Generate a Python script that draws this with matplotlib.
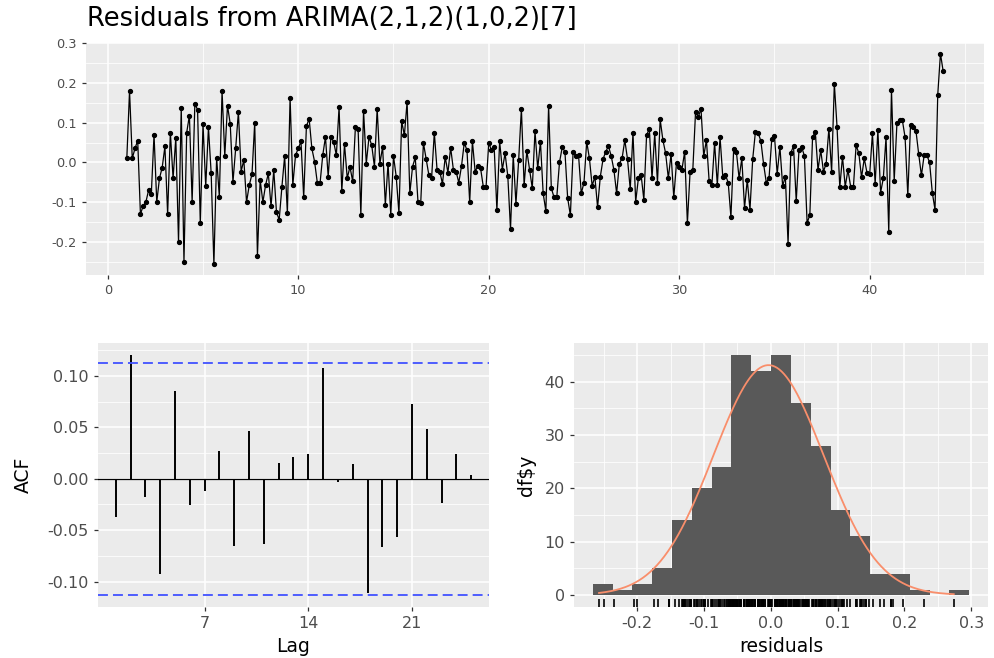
import numpy as np
import matplotlib
matplotlib.use("Agg")
import matplotlib.pyplot as plt
from matplotlib.ticker import MultipleLocator, FixedLocator, FixedFormatter
import matplotlib.transforms as mtransforms

plt.rcParams['font.family'] = ['DejaVu Sans']
plt.rcParams['axes.unicode_minus'] = False

# ---------------- data ----------------
title = "Residuals from ARIMA(2,1,2)(1,0,2)[7]"
frequency = 7
start_time = 1

residuals = [
    0.01, 0.18, 0.01, 0.035, 0.055, -0.13, -0.11, -0.10, -0.07, -0.08,
    0.07, -0.10, -0.04, -0.013, 0.04, -0.13, 0.075, -0.04, 0.062, -0.20,
    0.137, -0.25, 0.075, 0.118, -0.10, 0.147, 0.133, -0.153, 0.096, -0.06,
    0.088, -0.028, -0.257, 0.012, -0.087, 0.18, 0.016, 0.143, 0.097, -0.05,
    0.035, 0.127, -0.023, 0.006, -0.10, -0.057, -0.03, 0.10, -0.235,
    -0.044, -0.10, -0.057, -0.028, -0.111, -0.019, -0.126, -0.144, -0.061, 0.016,
    -0.128, 0.163, -0.057, 0.018, 0.035, 0.053, -0.088, 0.091, 0.11, 0.035,
    0.002, -0.051, -0.053, 0.018, 0.064, -0.036, 0.064, 0.052, 0.018, 0.139,
    -0.073, 0.046, -0.04, -0.011, -0.048, 0.089, 0.083, -0.132, 0.129, -0.003,
    0.064, 0.043, -0.011, 0.135, -0.003, 0.039, -0.107, -0.003, -0.132, 0.016,
    -0.036, -0.128, 0.104,
    0.068, 0.153, -0.078, -0.011, 0.0125, -0.10, -0.103, 0.049, 0.008, -0.032,
    -0.04, 0.075, -0.018, -0.023, -0.054, 0.014, -0.026, 0.037, -0.018, -0.023,
    -0.051, -0.009, 0.049, 0.031, -0.10, 0.053, -0.023, -0.009, -0.015, -0.061,
    -0.063, 0.049, 0.031, 0.038, -0.121, 0.053, -0.018, 0.023, -0.034, -0.168,
    0.018, -0.104, 0.006, 0.135, -0.057, 0.029, -0.018, -0.065, 0.078, -0.015,
    0.052, -0.078,
    -0.123, 0.143, -0.065, -0.088, -0.088, 0.0, 0.038, 0.027, -0.09, -0.133,
    0.027, 0.016, 0.018, -0.078, -0.051, 0.052, 0.01, -0.059, -0.036, -0.113,
    -0.036, 0.008, 0.027, 0.041, 0.016, -0.019, -0.078, -0.003, 0.01, 0.056,
    0.008, -0.068, 0.074, -0.099, -0.04, -0.032, -0.094, 0.068, 0.085, -0.04,
    0.073, -0.051, 0.108, 0.056, 0.023, -0.04, 0.021, -0.088, -0.001, -0.011,
    -0.018, 0.027, -0.153,
    -0.023, -0.018, 0.127, 0.114, 0.135, 0.016, 0.056, -0.048, -0.057, 0.049,
    -0.057, 0.064, -0.036, -0.032, -0.051, -0.138, 0.033, 0.027, -0.04, 0.01,
    -0.115, -0.044, -0.119, 0.008, 0.077, 0.074, 0.054, -0.004, -0.051, -0.04,
    0.058, 0.067, -0.029, 0.039, -0.059, -0.036, -0.205, 0.024, 0.041, -0.098,
    0.031, 0.039, 0.016, -0.153, -0.132, 0.064, 0.076, -0.019, 0.031, -0.023,
    -0.003, 0.085, -0.023, 0.198,
    0.089, -0.0625, 0.014, -0.061, -0.019, -0.061, -0.063, 0.043, 0.023, -0.038,
    0.01, -0.026, -0.029, 0.073, -0.054, 0.081, -0.076, -0.04, 0.064, -0.175,
    0.183, -0.046, 0.098, 0.106, 0.106, 0.063, -0.083, 0.095, 0.089, 0.079,
    0.021, -0.033, 0.018, 0.018, 0.0, -0.076, -0.119, 0.17, 0.274, 0.229,
]

acf_lags = list(range(1, 26))
acf_values = [-0.0368, 0.1203, -0.0174, -0.0923, 0.0852, -0.0255, -0.0119, 0.0268,
              -0.0658, 0.0461, -0.0632, 0.0152, 0.0210, 0.0242, 0.1080, -0.0030,
              0.0139, -0.1110, -0.0661, -0.0568, 0.0723, 0.0484, -0.0232, 0.0245,
              0.0032]
acf_ticks = [7, 14, 21]

hist_start = -0.2663
hist_binwidth = 0.02965
hist_counts = [2, 1, 2, 5, 14, 20, 24, 45, 42, 45, 36, 28, 16, 11, 4, 4, 1, 0, 1]

top_xticks = [0, 10, 20, 30, 40]
top_yticks = [-0.2, -0.1, 0.0, 0.1, 0.2, 0.3]
top_ylabels = ["-0.2", "-0.1", "0.0", "0.1", "0.2", "0.3"]
acf_yticks = [-0.10, -0.05, 0.0, 0.05, 0.10]
acf_ylabels = ["-0.10", "-0.05", "0.00", "0.05", "0.10"]
hist_xticks = [-0.2, -0.1, 0.0, 0.1, 0.2, 0.3]
hist_xlabels = ["-0.2", "-0.1", "0.0", "0.1", "0.2", "0.3"]
hist_yticks = [0, 10, 20, 30, 40]

# ---------------- figure ----------------
W, H = 995, 658
fig = plt.figure(figsize=(W / 100, H / 100), dpi=100)


def rect(l, t, r, b):
    return [l / W, 1 - b / H, (r - l) / W, (b - t) / H]


def style(ax, fs, pad):
    ax.set_facecolor('#EBEBEB')
    for s in ax.spines.values():
        s.set_visible(False)
    ax.grid(which='major', color='white', lw=1.1)
    ax.grid(which='minor', color='white', lw=0.55)
    ax.set_axisbelow(True)
    ax.tick_params(which='major', length=3.2, width=0.9, color='#333333',
                   labelcolor='#4D4D4D', labelsize=fs, pad=pad)
    ax.tick_params(which='minor', length=0)


res = np.array(residuals)
n = len(res)
t = start_time + np.arange(n) / frequency

# top: residual time series
ax1 = fig.add_axes(rect(86, 43, 984, 275))
style(ax1, 9.3, 3.5)
ax1.plot(t, res, color='black', lw=0.9, marker='o', ms=2.8, zorder=3)
span = t.max() - t.min()
ax1.set_xlim(t.min() - 0.05 * span, t.max() + 0.05 * span)
yspan = res.max() - res.min()
ax1.set_ylim(res.min() - 0.05 * yspan, res.max() + 0.05 * yspan)
ax1.xaxis.set_major_locator(FixedLocator(top_xticks))
ax1.xaxis.set_minor_locator(MultipleLocator(5))
ax1.yaxis.set_major_locator(FixedLocator(top_yticks))
ax1.yaxis.set_major_formatter(FixedFormatter(top_ylabels))
ax1.yaxis.set_minor_locator(MultipleLocator(0.05))
fig.text(87 / W, 1 - 19 / H, title, fontsize=18.5, ha='left', va='center', color='black')

# bottom left: ACF
ax2 = fig.add_axes(rect(98, 343, 489, 607))
style(ax2, 11.5, 3.5)
ci = 1.96 / np.sqrt(n)
ax2.vlines(acf_lags, 0, acf_values, color='black', lw=1.4, zorder=3)
ax2.axhline(0, color='black', lw=0.9, zorder=3)
ax2.axhline(ci, color='#4152FF', lw=1.3, ls=(0, (5.5, 2.8)), zorder=3)
ax2.axhline(-ci, color='#4152FF', lw=1.3, ls=(0, (5.5, 2.8)), zorder=3)
lspan = max(acf_lags) - min(acf_lags)
ax2.set_xlim(min(acf_lags) - 0.05 * lspan, max(acf_lags) + 0.05 * lspan)
lo = min(min(acf_values), -ci)
hi = max(max(acf_values), ci)
ax2.set_ylim(lo - 0.05 * (hi - lo), hi + 0.05 * (hi - lo))
ax2.xaxis.set_major_locator(FixedLocator(acf_ticks))
ax2.yaxis.set_major_locator(FixedLocator(acf_yticks))
ax2.yaxis.set_major_formatter(FixedFormatter(acf_ylabels))
ax2.yaxis.set_minor_locator(MultipleLocator(0.025))
ax2.set_xlabel('Lag', fontsize=13.5)
ax2.set_ylabel('ACF', fontsize=13.5)
ax2.xaxis.set_label_coords(0.5, -(637 - 607) / 264)
ax2.yaxis.set_label_coords(-(98 - 33) / 391, 0.5)

# bottom right: histogram
ax3 = fig.add_axes(rect(574, 343, 988, 607))
style(ax3, 11.5, 3.5)
edges = hist_start + hist_binwidth * np.arange(len(hist_counts))
ax3.bar(edges, hist_counts, width=hist_binwidth, align='edge', color='#595959',
        edgecolor='none', zorder=2)
trans = mtransforms.blended_transform_factory(ax3.transData, ax3.transAxes)
ax3.vlines(res, 0, 0.03, transform=trans, color='black', lw=1.2, zorder=3)
mu, sd = res.mean(), res.std(ddof=1)
xs = np.linspace(res.min(), res.max(), 300)
ys = sum(hist_counts) * hist_binwidth * np.exp(-0.5 * ((xs - mu) / sd) ** 2) / (sd * np.sqrt(2 * np.pi))
ax3.plot(xs, ys, color='#F98E6B', lw=1.3, zorder=4)
xlo = min(edges[0], res.min())
xhi = max(edges[-1] + hist_binwidth, res.max())
ax3.set_xlim(xlo - 0.05 * (xhi - xlo), xhi + 0.05 * (xhi - xlo))
cmax = max(hist_counts)
ax3.set_ylim(-0.05 * cmax, cmax * 1.05)
ax3.xaxis.set_major_locator(FixedLocator(hist_xticks))
ax3.xaxis.set_major_formatter(FixedFormatter(hist_xlabels))
ax3.xaxis.set_minor_locator(MultipleLocator(0.05))
ax3.yaxis.set_major_locator(FixedLocator(hist_yticks))
ax3.yaxis.set_minor_locator(MultipleLocator(5))
ax3.set_xlabel('residuals', fontsize=13.5)
ax3.set_ylabel(r'df\$y', fontsize=13.5)
ax3.xaxis.set_label_coords(0.5, -(637 - 607) / 264)
ax3.yaxis.set_label_coords(-(574 - 536) / 414, 0.5)

fig.savefig('out.png', dpi=100, facecolor='white')
